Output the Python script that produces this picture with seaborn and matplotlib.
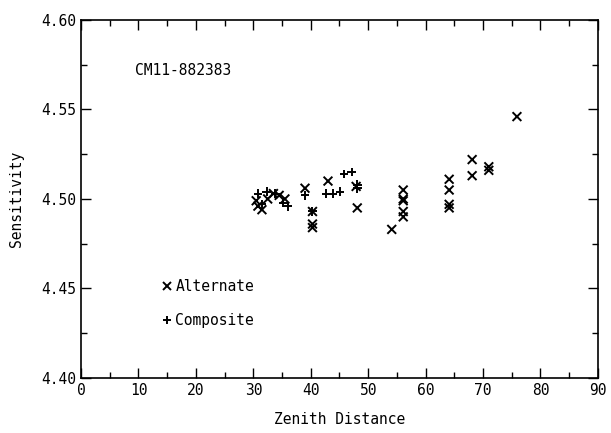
import pandas as pd
import seaborn as sns
import matplotlib.pyplot as plt
from matplotlib.ticker import MultipleLocator

# values
alt_zd = [30.5, 30.8, 31.5, 32.5, 33.5, 34.5, 35.5, 39.0, 40.3, 40.3, 40.3,
          43.0, 47.9, 48.1, 54.1, 56.1, 56.1, 56.1, 56.1, 56.1,
          64.1, 64.1, 64.1, 64.1, 68.1, 68.1, 71.0, 71.0, 75.9]
alt_sens = [4.499, 4.496, 4.494, 4.500, 4.503, 4.502, 4.500, 4.506, 4.493, 4.486, 4.484,
            4.510, 4.507, 4.495, 4.483, 4.505, 4.500, 4.499, 4.493, 4.490,
            4.511, 4.505, 4.497, 4.495, 4.522, 4.513, 4.518, 4.516, 4.546]
comp_zd = [30.8, 31.5, 32.3, 33.8, 35.2, 36.0, 39.0, 40.3,
           42.7, 43.8, 45.1, 45.8, 47.1, 48.1, 48.1]
comp_sens = [4.503, 4.497, 4.504, 4.503, 4.498, 4.496, 4.502, 4.493,
             4.503, 4.503, 4.504, 4.514, 4.515, 4.508, 4.506]

df = pd.DataFrame({
    'zd': alt_zd + comp_zd,
    'sens': alt_sens + comp_sens,
    'series': ['Alternate'] * len(alt_zd) + ['Composite'] * len(comp_zd),
})

sns.set_style('ticks')
plt.rcParams['font.family'] = ['DejaVu Sans Mono', 'DejaVu Sans']
plt.rcParams['text.color'] = 'black'
plt.rcParams['axes.labelcolor'] = 'black'
plt.rcParams['xtick.color'] = 'black'
plt.rcParams['ytick.color'] = 'black'
plt.rcParams['axes.edgecolor'] = 'black'

fig = plt.figure(figsize=(6.11, 4.33), dpi=100)
ax = fig.add_axes([0.1326, 0.127, 0.846, 0.827])

sns.scatterplot(data=df, x='zd', y='sens', style='series',
                markers={'Alternate': 'x', 'Composite': '+'},
                color='black', s=40, linewidth=1.4, ax=ax)

ax.set_xlim(0, 90)
ax.set_ylim(4.40, 4.60)
ax.xaxis.set_major_locator(MultipleLocator(10))
ax.xaxis.set_minor_locator(MultipleLocator(5))
ax.yaxis.set_major_locator(MultipleLocator(0.05))
ax.yaxis.set_minor_locator(MultipleLocator(0.025))
ax.yaxis.set_major_formatter(plt.FormatStrFormatter('%.2f'))
ax.tick_params(which='both', direction='in', top=True, right=True, labelsize=10.5)
ax.tick_params(which='major', length=7, width=1)
ax.tick_params(which='minor', length=4, width=1)
for sp in ax.spines.values():
    sp.set_linewidth(1.2)

ax.set_xlabel('Zenith Distance', fontsize=10.5, labelpad=10)
ax.set_ylabel('Sensitivity', fontsize=10.5, labelpad=12)

ax.text(0.104, 0.86, 'CM11-882383', transform=ax.transAxes, fontsize=10.5,
        va='center', ha='left')

ax.legend(title=None, frameon=False, loc='lower left',
          bbox_to_anchor=(0.14, 0.12), handletextpad=0.2, handlelength=0.8,
          labelspacing=1.3, fontsize=10.5, borderpad=0, markerscale=0.8)

fig.savefig('out.png', dpi=100)
